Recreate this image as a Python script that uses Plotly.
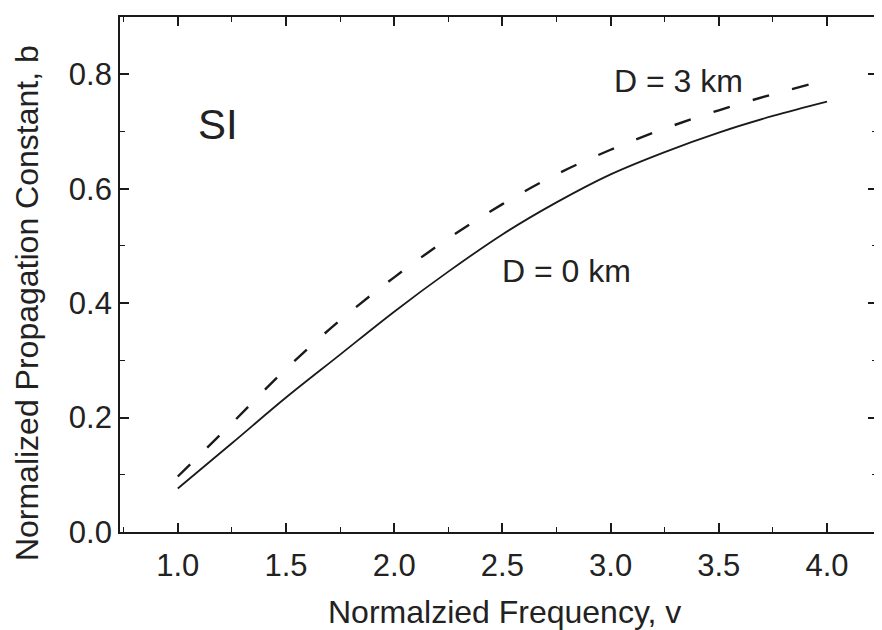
import plotly.graph_objects as go

# Data
v = [1.0, 1.25, 1.5, 1.75, 2.0, 2.25, 2.5, 2.75, 3.0, 3.25, 3.5, 3.75, 4.0]
b_d0 = [0.076, 0.155, 0.235, 0.31, 0.385, 0.455, 0.52, 0.576, 0.625, 0.664, 0.698, 0.727, 0.752]
b_d3 = [0.097, 0.19, 0.285, 0.37, 0.445, 0.513, 0.573, 0.625, 0.668, 0.705, 0.737, 0.765, 0.79]

x_ticks = [1.0, 1.5, 2.0, 2.5, 3.0, 3.5, 4.0]
y_ticks = [0.0, 0.2, 0.4, 0.6, 0.8]

FONT = "Liberation Sans, Arial, sans-serif"
INK = "#1a1a1a"

fig = go.Figure()
fig.add_trace(go.Scatter(x=v, y=b_d0, mode="lines", line=dict(color=INK, width=1.8, shape="spline"),
                         name="D = 0 km", showlegend=False))
fig.add_trace(go.Scatter(x=v, y=b_d3, mode="lines", line=dict(color=INK, width=2.4, dash="17px,24px", shape="spline"),
                         name="D = 3 km", showlegend=False))

axis_common = dict(
    showgrid=False, zeroline=False, showline=True, linecolor=INK, linewidth=1.8,
    mirror="ticks", ticks="inside", ticklen=9, tickwidth=1.5, tickcolor=INK,
    tickfont=dict(family=FONT, size=31, color="#222"),
)

fig.update_xaxes(range=[0.733, 4.231], tickvals=x_ticks, ticktext=[f"{t:.1f}" for t in x_ticks],
                 minor=dict(dtick=0.25, tick0=0.25, ticks="inside", ticklen=5, tickwidth=1.3, tickcolor=INK),
                 ticklabelstandoff=5, **axis_common)
fig.update_yaxes(range=[0, 0.9], tickvals=y_ticks, ticktext=[f"{t:.1f}" for t in y_ticks],
                 minor=dict(dtick=0.1, tick0=0, ticks="inside", ticklen=5, tickwidth=1.3, tickcolor=INK),
                 ticklabelstandoff=0, **axis_common)

ann_font = dict(family=FONT, size=32, color="#222")
fig.add_annotation(x=1.184, y=0.713, text="SI", showarrow=False, font=dict(family=FONT, size=42, color="#222"))
fig.add_annotation(x=3.313, y=0.788, text="D = 3 km", showarrow=False, font=ann_font)
fig.add_annotation(x=2.797, y=0.456, text="D = 0 km", showarrow=False, font=ann_font)
fig.add_annotation(x=2.51, xref="x", y=0, yref="paper", yshift=-80, yanchor="middle",
                   text="Normalzied Frequency, v", showarrow=False, font=ann_font)
fig.add_annotation(x=0, xref="paper", xshift=-93, xanchor="center", y=0.40, yref="y",
                   text="Normalized Propagation Constant, b", textangle=-90, showarrow=False, font=ann_font)

# The page body adds an 8px offset, so the figure is sized/margined to compensate
fig.update_layout(
    width=874, height=622,
    margin=dict(l=112, r=3, t=9, b=98),
    plot_bgcolor="white", paper_bgcolor="white",
)

fig.write_html("out.html")
